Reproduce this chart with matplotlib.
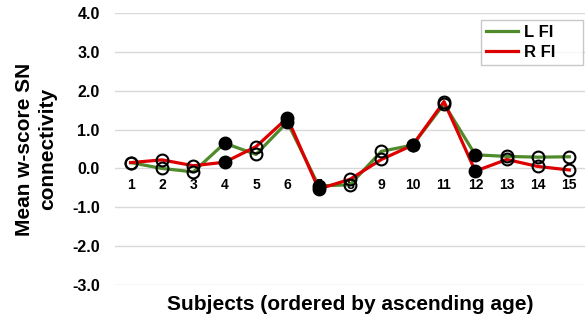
import matplotlib
matplotlib.use("Agg")
import matplotlib.pyplot as plt
from matplotlib.lines import Line2D

subjects = list(range(1, 16))
tick_labels = [str(s) for s in subjects]
left_fi = [0.15, 0.00, -0.09, 0.65, 0.36, 1.19, -0.45, -0.42, 0.44, 0.60, 1.66, 0.35, 0.31, 0.29, 0.30]
right_fi = [0.15, 0.22, 0.07, 0.16, 0.56, 1.30, -0.53, -0.28, 0.23, 0.60, 1.72, -0.07, 0.23, 0.05, -0.04]
filled = [False, False, False, True, False, True, True, False, False, True, False, True, False, False, False]
y_ticks = [-3, -2, -1, 0, 1, 2, 3, 4]

green = "#4f8a2b"
red = "#dd0000"

plt.rcParams['font.family'] = ['Liberation Sans', 'DejaVu Sans']
plt.rcParams['font.weight'] = 'bold'

fig = plt.figure(figsize=(5.85, 3.25), dpi=100)
ax = fig.add_axes([115/585, 1-285/325, 470/585, 272/325])

for vals, col, lab in [(left_fi, green, 'L FI'), (right_fi, red, 'R FI')]:
    ax.plot(subjects, vals, color=col, lw=2.3, label=lab, zorder=3)
    for x, v, f in zip(subjects, vals, filled):
        ax.plot([x], [v], marker='o', ms=8.5, mec='black', mew=1.5,
                mfc='black' if f else 'none', linestyle='none', zorder=4)

ax.set_xlim(0.5, 15.5)
ax.set_ylim(-3, 4)
ax.set_yticks(y_ticks)
ax.set_yticklabels([f"{t:.1f}" for t in y_ticks], fontsize=11.5, fontweight='bold')
ax.set_xticks(subjects)
ax.set_xticklabels(tick_labels, fontsize=12, fontweight='bold')
ax.grid(axis='y', color='#d9d9d9', lw=1)
ax.set_axisbelow(True)
for s in ['top', 'right', 'left']:
    ax.spines[s].set_visible(False)
ax.spines['bottom'].set_position(('data', 0))
ax.spines['bottom'].set_visible(False)
ax.tick_params(axis='x', length=0, pad=7)
ax.tick_params(axis='y', length=0, pad=11)

ax.set_ylabel("Mean w-score SN\nconnectivity", fontsize=15, fontweight='bold', labelpad=11,
              linespacing=1.25)
ax.text(0.5, -0.035, "Subjects (ordered by ascending age)", transform=ax.transAxes,
        ha='center', va='top', fontsize=15, fontweight='bold')

handles = [Line2D([], [], color=green, lw=2.3), Line2D([], [], color=red, lw=2.3)]
leg = ax.legend(handles, ['L FI', 'R FI'], loc='upper left',
                bbox_to_anchor=((481-115)/470, 0.3, (583-481)/470, 0.674), mode='expand',
                borderaxespad=0, fancybox=False, frameon=True,
                prop={'weight': 'bold', 'size': 12}, handlelength=1.9, handletextpad=0.4,
                labelspacing=0.3, borderpad=0.3)
leg.get_frame().set_edgecolor('#bbbbbb')
leg.get_frame().set_linewidth(1.0)

fig.savefig("out.png", dpi=100)
